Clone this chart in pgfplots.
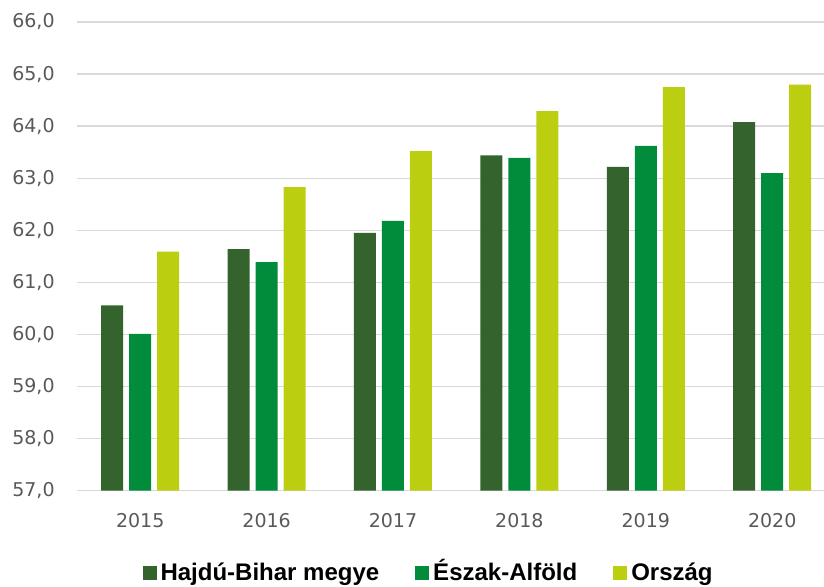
\documentclass[border=0pt]{standalone}
\usepackage{fontspec}
\setmainfont{DejaVu Sans}
\newfontfamily\legfont{Liberation Sans}
\usepackage{pgfplots}
\pgfplotsset{compat=1.18}

\definecolor{hbm}{HTML}{35632E}
\definecolor{ea}{HTML}{008C3A}
\definecolor{orsz}{HTML}{BBCF10}
\definecolor{gridc}{HTML}{D9D9D9}
\definecolor{txt}{HTML}{595959}

\begin{document}
\begin{tikzpicture}
\path[use as bounding box] (-38.5pt,-47.65pt) rectangle (373.5pt,245.35pt);
\begin{axis}[
    scale only axis,
    width=373.5pt, height=234.35pt,
    ybar,
    bar width=0.174,
    xmin=-0.5, xmax=5.41,
    ymin=57, ymax=66,
    ytick={57,58,...,66},
    xtick={0,1,2,3,4,5},
    xticklabels={2015,2016,2017,2018,2019,2020},
    axis line style={draw=none},
    major tick length=0pt,
    ymajorgrids,
    grid style={gridc, line width=0.75pt},
    tick label style={font=\fontsize{9.5pt}{11pt}\selectfont, text=txt, inner sep=0pt},
    yticklabel style={anchor=east, xshift=-11pt},
    xticklabel style={anchor=north, yshift=-11pt},
    /pgf/number format/assume math mode=true,
    yticklabel={\pgfmathprintnumber[fixed, fixed zerofill, precision=1, use comma]{\tick}},
    legend columns=-1,
    legend style={at={(0.472,-0.1756)}, anchor=center, draw=none,
        font=\legfont\bfseries\fontsize{12pt}{14pt}\selectfont,
        inner sep=0pt,
        nodes={text height=10pt, text depth=2.5pt},
        /tikz/every even column/.append style={column sep=16pt}},
    legend cell align=left,
    legend image code/.code={\fill[#1] (0pt,-3.5pt) rectangle (7pt,3.5pt);},
    clip=false,
]
\draw[gridc, line width=0.75pt] (axis cs:-0.5,57) -- (axis cs:5.41,57);
\addplot[fill=hbm, draw=none, bar shift=-0.2215] coordinates {
    (0,60.56) (1,61.64) (2,61.95) (3,63.44) (4,63.22) (5,64.08)};
\addplot[fill=ea, draw=none, bar shift=0] coordinates {
    (0,60.01) (1,61.39) (2,62.18) (3,63.39) (4,63.62) (5,63.10)};
\addplot[fill=orsz, draw=none, bar shift=0.2215] coordinates {
    (0,61.59) (1,62.83) (2,63.52) (3,64.29) (4,64.75) (5,64.80)};
\legend{Hajdú-Bihar megye, Észak-Alföld, Ország}
\end{axis}
\end{tikzpicture}
\end{document}
